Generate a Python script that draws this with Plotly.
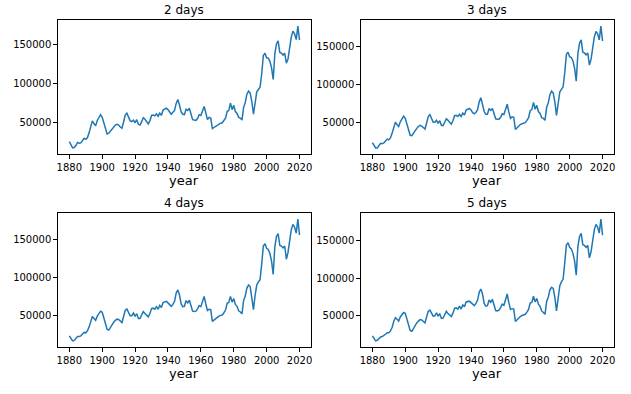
import plotly.graph_objects as go

years = list(range(1880, 2021))

days2 = [24500, 20000, 16500, 17000, 19500, 23500, 22500, 23000, 25500, 29000,
         27500, 29500, 36000, 46000, 51500, 48000, 45000, 52000, 56500, 59500,
         56000, 49000, 40000, 34500, 35500, 38000, 40500, 43500, 46000, 47000,
         46000, 43500, 42000, 50000, 59000, 61500, 56000, 51500, 50500, 52500,
         49000, 53000, 47000, 46000, 50500, 55500, 53500, 50000, 47500, 51500,
         58500, 59000, 58000, 60500, 57500, 61500, 58500, 65500, 67000, 68000,
         66000, 62000, 60000, 62500, 65000, 74000, 79000, 72000, 63000, 60000,
         59500, 66500, 65000, 68000, 60500, 53000, 52500, 52000, 54500, 59500,
         58500, 66000, 70000, 62000, 53000, 56000, 55000, 41500, 43000, 45000,
         46500, 47500, 48500, 49000, 51500, 55000, 63500, 65000, 74500, 66000,
         71500, 63500, 61000, 56000, 55000, 52500, 69000, 75000, 86000, 90000,
         87500, 76500, 60000, 75500, 89000, 92000, 95000, 112000, 136000, 139000,
         133000, 132500, 128500, 120000, 105000, 138000, 151000, 155000, 140000, 139000,
         136500, 139000, 126000, 131500, 148500, 160000, 167500, 164000, 156500, 174000,
         156000]

days3 = [24000, 19500, 17000, 17000, 19500, 23000, 22500, 23500, 26000, 28500,
         27500, 30000, 36000, 45000, 50500, 47500, 45000, 51000, 55500, 58500,
         55500, 48000, 39000, 33500, 33000, 36500, 40000, 42500, 45000, 46500,
         45500, 43000, 41500, 49500, 58000, 60500, 55000, 50500, 50500, 53000,
         49000, 52500, 46500, 46000, 50500, 55000, 53000, 50500, 48000, 52500,
         59000, 59500, 58000, 61000, 58000, 62500, 60000, 66500, 67500, 68500,
         66500, 63000, 61500, 63500, 67000, 77500, 82500, 75000, 64500, 61000,
         61000, 68500, 66000, 68500, 61500, 55000, 54500, 54500, 57000, 61500,
         60500, 68500, 74000, 64000, 55500, 57500, 57000, 41000, 43500, 45500,
         47500, 48500, 49500, 50000, 53000, 56500, 65500, 67000, 76500, 67500,
         72500, 64500, 62000, 56500, 55500, 53000, 70000, 76000, 86500, 91000,
         88500, 77000, 59500, 76500, 90000, 93500, 96500, 115000, 139000, 142000,
         136000, 135000, 130500, 121000, 104000, 140000, 153500, 158000, 142000, 141000,
         138500, 141000, 125000, 132500, 150500, 162000, 169000, 166000, 158000, 176000,
         156500]

days4 = [23500, 19500, 16800, 17500, 19500, 22500, 22500, 23500, 26000, 28000,
         27500, 30000, 35000, 43500, 49000, 46500, 44000, 49500, 53500, 56000,
         54500, 47000, 37500, 32000, 31000, 35000, 39000, 41500, 44000, 45500,
         45000, 42500, 41000, 49000, 57000, 59000, 54000, 50000, 50000, 53500,
         49500, 52500, 46500, 46500, 51000, 55500, 53000, 51000, 48500, 53000,
         59500, 60000, 58500, 62000, 58500, 63500, 61000, 67500, 68500, 69000,
         67000, 64000, 62500, 65000, 69000, 80000, 84000, 77500, 65500, 62000,
         62500, 70000, 67000, 70500, 62500, 56000, 55500, 56000, 59000, 63500,
         62000, 70000, 75500, 65500, 57000, 58500, 58000, 42500, 44500, 46500,
         48500, 49500, 50500, 51000, 54000, 57500, 66500, 67500, 75500, 68000,
         72500, 65000, 62500, 56500, 55000, 52500, 70000, 76000, 86500, 90500,
         88500, 76000, 58000, 77000, 90500, 94500, 97500, 118000, 142000, 145000,
         139000, 137500, 132000, 122000, 104500, 141000, 154500, 158500, 143000, 142000,
         139500, 142000, 124500, 133500, 151500, 163500, 170500, 167000, 159000, 177500,
         156500]

days5 = [23500, 19000, 16700, 17500, 19500, 22000, 22500, 23500, 25500, 27500,
         27500, 30000, 34500, 42500, 47500, 45500, 43000, 48500, 52500, 54500,
         53500, 46000, 36000, 30500, 29500, 33500, 38000, 40500, 43000, 45000,
         44500, 42000, 40500, 48500, 56000, 57500, 53500, 49500, 50000, 54000,
         50000, 52500, 46500, 47000, 51500, 56000, 53000, 51500, 49000, 53500,
         60000, 60500, 59000, 63000, 59000, 64500, 62000, 68500, 69500, 69500,
         67500, 65000, 63500, 66500, 71000, 81500, 85500, 79000, 66500, 63000,
         63500, 71000, 68000, 72000, 63500, 57000, 56500, 57500, 61000, 65500,
         64000, 72500, 79000, 67500, 58500, 59500, 59000, 42500, 45000, 47000,
         49000, 50500, 51500, 52000, 55000, 58500, 67000, 68000, 76000, 68500,
         73000, 65500, 62500, 56500, 54500, 52000, 69000, 75000, 84500, 88000,
         86500, 74500, 56500, 76500, 90000, 95000, 98500, 120000, 144000, 147000,
         141000, 139000, 133000, 123000, 104000, 142000, 155500, 159500, 144500, 143500,
         141000, 143500, 127000, 135000, 153000, 164500, 171500, 168000, 160000, 178500,
         157000]

titles = ["2 days", "3 days", "4 days", "5 days"]
series = [days2, days3, days4, days5]
xtick_vals = [1880, 1900, 1920, 1940, 1960, 1980, 2000, 2020]
ytick_vals = [50000, 100000, 150000]

W, H = 631, 394
# axes boxes in pixels: (left, right, top, bottom)
boxes = [(57, 311, 20, 154), (361, 615, 20, 154),
         (57, 311, 213, 347), (361, 615, 213, 347)]

FONT = "DejaVu Sans"
fig = go.Figure()
annotations = []
for i, (t, s, b) in enumerate(zip(titles, series, boxes)):
    n = "" if i == 0 else str(i + 1)
    fig.add_trace(go.Scatter(x=years, y=s, mode="lines",
                             line=dict(color="#1f77b4", width=1.5),
                             xaxis="x" + n, yaxis="y" + n, showlegend=False,
                             hoverinfo="skip"))
    l, r, tp, bt = b
    xd = [l / W, r / W]
    yd = [1 - bt / H, 1 - tp / H]
    xr = [years[0] - 0.05 * (years[-1] - years[0]), years[-1] + 0.05 * (years[-1] - years[0])]
    span = max(s) - min(s)
    yr = [min(s) - 0.05 * span, max(s) + 0.05 * span]
    common = dict(showline=True, linecolor="black", linewidth=1, mirror=True,
                  ticks="outside", ticklen=3.5, tickwidth=1, tickcolor="black",
                  showgrid=False, zeroline=False,
                  tickfont=dict(family=FONT, size=10, color="black"))
    fig.update_layout(**{
        "xaxis" + n: dict(domain=xd, range=xr, tickvals=xtick_vals,
                          anchor="y" + n, **common),
        "yaxis" + n: dict(domain=yd, range=yr, tickvals=ytick_vals,
                          tickformat="d", anchor="x" + n, **common),
    })
    cx = (xd[0] + xd[1]) / 2
    annotations.append(dict(text=t, x=cx, y=yd[1], xref="paper", yref="paper",
                            xanchor="center", yanchor="bottom", yshift=1,
                            showarrow=False,
                            font=dict(family=FONT, size=12, color="black")))
    annotations.append(dict(text="year", x=cx, y=yd[0], xref="paper", yref="paper",
                            xanchor="center", yanchor="top", yshift=-17,
                            showarrow=False,
                            font=dict(family=FONT, size=13, color="black")))

fig.update_layout(width=W, height=H, margin=dict(l=0, r=0, t=0, b=0),
                  paper_bgcolor="white", plot_bgcolor="white",
                  hovermode=False, annotations=annotations)
fig.write_html("out.html",
               config={"displayModeBar": False, "staticPlot": True},
               post_script="document.body.style.margin='0px';")
